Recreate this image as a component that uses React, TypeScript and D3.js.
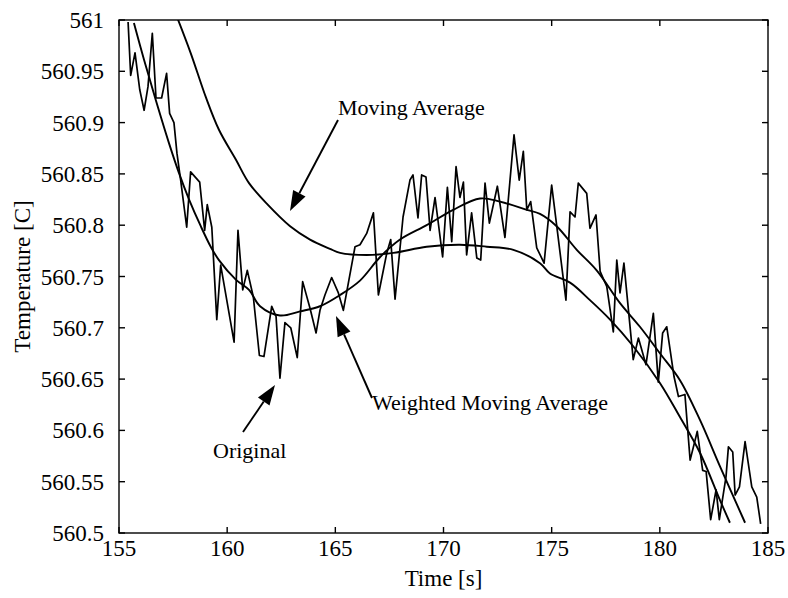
import React from "react";
import * as d3 from "d3";

// Raw temperature record (time in s, temperature in C)
const originalTime = [
  155.42, 155.54, 155.74, 155.96, 156.16, 156.34, 156.54, 156.71, 156.97, 157.2,
  157.34, 157.54, 157.68, 157.85, 158.13, 158.31, 158.73, 158.96, 159.08, 159.29,
  159.52, 159.7, 160.32, 160.5, 160.72, 160.93, 161.21, 161.49, 161.7, 162.06,
  162.26, 162.44, 162.67, 162.94, 163.24, 163.49, 163.83, 164.11, 164.29, 164.52,
  164.83, 165.14, 165.37, 165.91, 166.14, 166.45, 166.76, 166.99, 167.38, 167.56,
  167.76, 168.13, 168.45, 168.59, 168.82, 168.99, 169.19, 169.38, 169.61, 169.96,
  170.18, 170.38, 170.58, 170.76, 170.92, 171.07, 171.3, 171.54, 171.72, 171.92,
  172.12, 172.49, 172.84, 173.26, 173.5, 173.69, 173.85, 174.03, 174.31, 174.65,
  175.0, 175.66, 175.85, 176.08, 176.23, 176.62, 176.77, 177.05, 177.24, 177.55,
  177.85, 178.01, 178.16, 178.34, 178.77, 179.01, 179.36, 179.7, 179.93, 180.13,
  180.32, 180.66, 180.86, 181.16, 181.4, 181.73, 181.98, 182.14, 182.35, 182.6,
  182.75, 183.06, 183.17, 183.37, 183.48, 183.68, 183.94, 184.25, 184.48, 184.66,
];
const originalTemp = [
  560.998, 560.946, 560.968, 560.932, 560.912, 560.935, 560.987, 560.924, 560.924, 560.948,
  560.909, 560.9, 560.87, 560.844, 560.798, 560.852, 560.842, 560.795, 560.82, 560.798,
  560.708, 560.761, 560.686, 560.795, 560.737, 560.756, 560.73, 560.673, 560.672, 560.721,
  560.711, 560.651, 560.705, 560.7, 560.671, 560.745, 560.719, 560.695, 560.717, 560.732,
  560.749, 560.734, 560.717, 560.779, 560.781, 560.792, 560.812, 560.732, 560.773, 560.786,
  560.728, 560.808, 560.844, 560.849, 560.807, 560.849, 560.847, 560.795, 560.827, 560.769,
  560.837, 560.784, 560.857, 560.827, 560.842, 560.771, 560.812, 560.768, 560.766, 560.841,
  560.802, 560.838, 560.788, 560.888, 560.844, 560.872, 560.815, 560.823, 560.778, 560.763,
  560.839, 560.727, 560.813, 560.808, 560.841, 560.831, 560.797, 560.81, 560.755, 560.74,
  560.696, 560.766, 560.734, 560.763, 560.669, 560.69, 560.664, 560.714, 560.647, 560.695,
  560.701, 560.652, 560.633, 560.635, 560.571, 560.599, 560.561, 560.56, 560.513, 560.542,
  560.513, 560.555, 560.584, 560.579, 560.537, 560.545, 560.589, 560.545, 560.535, 560.509,
];

// Weighted moving average
const weightedTime = [
  155.69, 156.16, 156.7, 157.31, 157.77, 158.24, 158.78, 159.24, 159.62, 160.4,
  161.01, 161.52, 162.44, 163.37, 164.29, 165.22, 166.14, 167.07, 167.99, 169.22,
  170.45, 171.69, 172.61, 173.85, 174.46, 175.23, 176.16, 177.08, 178.16, 179.08,
  180.01, 180.93, 181.86, 182.78, 183.94,
];
const weightedTemp = [
  560.997, 560.961, 560.922, 560.88, 560.851, 560.825, 560.799, 560.779, 560.766, 560.747,
  560.737, 560.721, 560.712, 560.716, 560.721, 560.732, 560.746, 560.769, 560.786, 560.8,
  560.815, 560.826, 560.823, 560.815, 560.811, 560.799, 560.776, 560.756, 560.724, 560.701,
  560.675, 560.649, 560.61, 560.565, 560.51,
];

// Plain moving average
const movingTime = [
  157.55, 158.31, 159.01, 159.62, 160.4, 161.01, 161.83, 162.91, 163.83, 164.75,
  165.22, 166.45, 167.68, 169.22, 170.76, 172.0, 173.23, 174.46, 174.92, 175.85,
  176.77, 177.7, 178.77, 180.01, 180.93, 181.86, 182.78, 183.24,
];
const movingTemp = [
  561.01, 560.968, 560.925, 560.893, 560.864, 560.841, 560.821, 560.799, 560.786, 560.777,
  560.773, 560.771, 560.773, 560.779, 560.781, 560.779, 560.776, 560.763, 560.753, 560.744,
  560.727, 560.708, 560.682, 560.646, 560.613, 560.578, 560.532, 560.51,
];

const xTicks = [155, 160, 165, 170, 175, 180, 185];
const yTicks = [561, 560.95, 560.9, 560.85, 560.8, 560.75, 560.7, 560.65, 560.6, 560.55, 560.5];
const yTickLabels = ["561", "560.95", "560.9", "560.85", "560.8", "560.75", "560.7", "560.65", "560.6", "560.55", "560.5"];

const W = 788;
const H = 598;
const left = 119;
const right = 768;
const top = 20;
const bottom = 533;
const font = "'Liberation Serif', 'Times New Roman', serif";

function Arrow({ x1, y1, x2, y2 }: { x1: number; y1: number; x2: number; y2: number }) {
  const ang = Math.atan2(y2 - y1, x2 - x1);
  const len = 20;
  const half = 7;
  const bx = x2 - len * Math.cos(ang);
  const by = y2 - len * Math.sin(ang);
  const px = -Math.sin(ang) * half;
  const py = Math.cos(ang) * half;
  return (
    <g>
      <line x1={x1} y1={y1} x2={bx} y2={by} stroke="#000" strokeWidth={1.9} />
      <path d={`M${x2},${y2}L${bx + px},${by + py}L${bx - px},${by - py}Z`} fill="#000" />
    </g>
  );
}

export default function App() {
  const x = d3.scaleLinear().domain([155, 185]).range([left, right]);
  const y = d3.scaleLinear().domain([560.5, 561]).range([bottom, top]);

  const raw = d3
    .line<number>()
    .x((_, i) => x(originalTime[i]))
    .y((v) => y(v))
    .curve(d3.curveLinear)(originalTemp) as string;
  const wma = d3
    .line<number>()
    .x((_, i) => x(weightedTime[i]))
    .y((v) => y(v))
    .curve(d3.curveCatmullRom.alpha(0.5))(weightedTemp) as string;
  const ma = d3
    .line<number>()
    .x((_, i) => x(movingTime[i]))
    .y((v) => y(v))
    .curve(d3.curveCatmullRom.alpha(0.5))(movingTemp) as string;

  const tickLen = 6;

  return (
    <svg
      width={W}
      height={H}
      style={{ position: "absolute", left: 0, top: 0, background: "#fff" }}
      fontFamily={font}
    >
      <defs>
        <clipPath id="plotArea">
          <rect x={left} y={top} width={right - left} height={bottom - top} />
        </clipPath>
      </defs>
      <rect width={W} height={H} fill="#fff" />

      <g clipPath="url(#plotArea)" fill="none" stroke="#000" strokeWidth={1.9} strokeLinejoin="round">
        <path d={ma} />
        <path d={wma} />
        <path d={raw} strokeWidth={1.7} />
      </g>

      {/* frame with inward ticks on all sides */}
      <rect x={left} y={top} width={right - left} height={bottom - top} fill="none" stroke="#000" strokeWidth={1.4} />
      {xTicks.map((t) => (
        <g key={`x${t}`} stroke="#000" strokeWidth={1.4}>
          <line x1={x(t)} x2={x(t)} y1={bottom} y2={bottom - tickLen} />
          <line x1={x(t)} x2={x(t)} y1={top} y2={top + tickLen} />
        </g>
      ))}
      {yTicks.map((t) => (
        <g key={`y${t}`} stroke="#000" strokeWidth={1.4}>
          <line x1={left} x2={left + tickLen} y1={y(t)} y2={y(t)} />
          <line x1={right} x2={right - tickLen} y1={y(t)} y2={y(t)} />
        </g>
      ))}

      {xTicks.map((t) => (
        <text key={`xl${t}`} x={x(t)} y={556} textAnchor="middle" fontSize={23} fill="#000">
          {t}
        </text>
      ))}
      {yTicks.map((t, i) => (
        <text key={`yl${t}`} x={104} y={y(t)} dy="0.35em" textAnchor="end" fontSize={23} fill="#000">
          {yTickLabels[i]}
        </text>
      ))}

      <text x={(left + right) / 2} y={586} textAnchor="middle" fontSize={23} fill="#000">
        Time [s]
      </text>
      <text
        transform={`translate(30,${(top + bottom) / 2}) rotate(-90)`}
        textAnchor="middle"
        fontSize={23}
        fill="#000"
      >
        Temperature [C]
      </text>

      <text x={338} y={115} fontSize={22} fill="#000">Moving Average</text>
      <Arrow x1={338} y1={120} x2={290} y2={211} />

      <text x={372} y={410} fontSize={22} fill="#000">Weighted Moving Average</text>
      <Arrow x1={372} y1={398} x2={336} y2={316} />

      <text x={213} y={458} fontSize={22} fill="#000">Original</text>
      <Arrow x1={243} y1={432} x2={275} y2={385} />
    </svg>
  );
}
